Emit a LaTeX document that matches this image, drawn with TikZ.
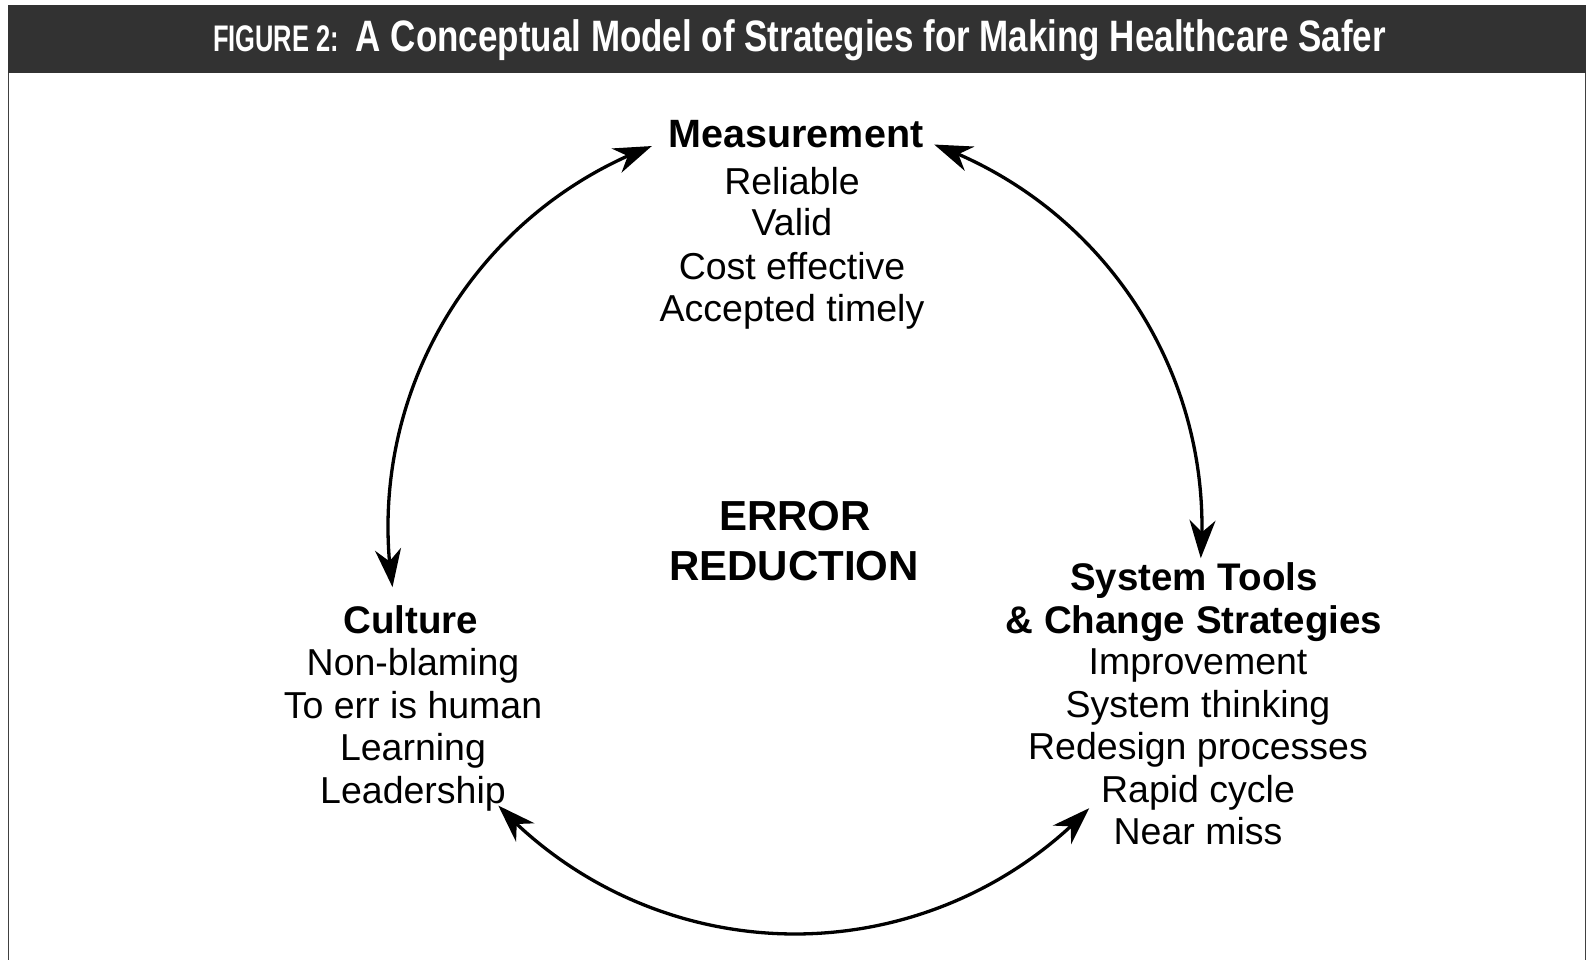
\documentclass[tikz,border=0pt]{standalone}
\usepackage{fontspec}
\usepackage{graphicx}
\setmainfont{Liberation Sans}
\usetikzlibrary{arrows.meta,bending}
\definecolor{hdr}{RGB}{50,50,50}
\begin{document}
\begin{tikzpicture}[x=1pt,y=1pt,
  head/.style={font=\fontsize{38.5}{40}\selectfont\bfseries, anchor=base, inner sep=0pt},
  big/.style={font=\fontsize{42}{44}\selectfont\bfseries, anchor=base, inner sep=0pt},
  body/.style={font=\fontsize{37.5}{40}\selectfont, anchor=base, inner sep=0pt},
  tip/.tip={Stealth[length=38pt,width=26pt,inset=12pt]},
  cyc/.style={line width=3.3pt, tip-tip},
]
\useasboundingbox (0,0) rectangle (1588,-960);
\fill[white] (0,0) rectangle (1588,-960);
\fill[hdr] (8,-5) rectangle (1586,-73);
\draw[line width=1.5pt, black!75] (8.5,-73) -- (8.5,-960) (1585.5,-73) -- (1585.5,-960);
\node[anchor=base, text=white, inner sep=0pt, font=\fontsize{37}{37}\selectfont\bfseries] (fig) at (276,-52) {\resizebox{126pt}{\height}{FIGURE 2:}};
\node[anchor=base, text=white, inner sep=0pt, font=\fontsize{44}{44}\selectfont\bfseries] (title) at (871,-52) {\resizebox{1030pt}{\height}{A Conceptual Model of Strategies for Making Healthcare Safer}};

% Measurement
\node[head, font=\fontsize{39.5}{40}\selectfont\bfseries] (meas) at (796,-148) {Measurement};
\node[body] (m1) at (792,-194.5) {Reliable};
\node[body] (m2) at (792,-236) {Valid};
\node[body] (m3) at (792,-279.5) {Cost effective};
\node[body] (m4) at (792,-321) {Accepted timely};

% Centre
\node[big] (err) at (795,-530) {ERROR};
\node[big] (red) at (794,-580) {REDUCTION};

% Culture
\node[head] (cult) at (411,-633) {Culture};
\node[body] (c1) at (413,-675.5) {Non-blaming};
\node[body] (c2) at (413,-718) {To err is human};
\node[body] (c3) at (413,-760.5) {Learning};
\node[body] (c4) at (413,-803) {Leadership};

% System tools
\node[head] (sys) at (1194,-590) {System Tools};
\node[head] (chg) at (1194,-633) {\& Change Strategies};
\node[body] (s1) at (1198,-674.5) {Improvement};
\node[body] (s2) at (1198,-717) {System thinking};
\node[body] (s3) at (1198,-759.5) {Redesign processes};
\node[body] (s4) at (1198,-802) {Rapid cycle};
\node[body] (s5) at (1198,-844.5) {Near miss};

% Cycle arcs
\coordinate (ctr) at (795,-527);
\draw[cyc] ([shift={(110.6:407)}]ctr) arc[start angle=110.6, end angle=188.5, radius=407];
\draw[cyc] ([shift={(70:407)}]ctr) arc[start angle=70, end angle=-4.4, radius=407];
\draw[cyc] ([shift={(223.2:407)}]ctr) arc[start angle=223.2, end angle=316.3, radius=407];
\end{tikzpicture}
\end{document}
